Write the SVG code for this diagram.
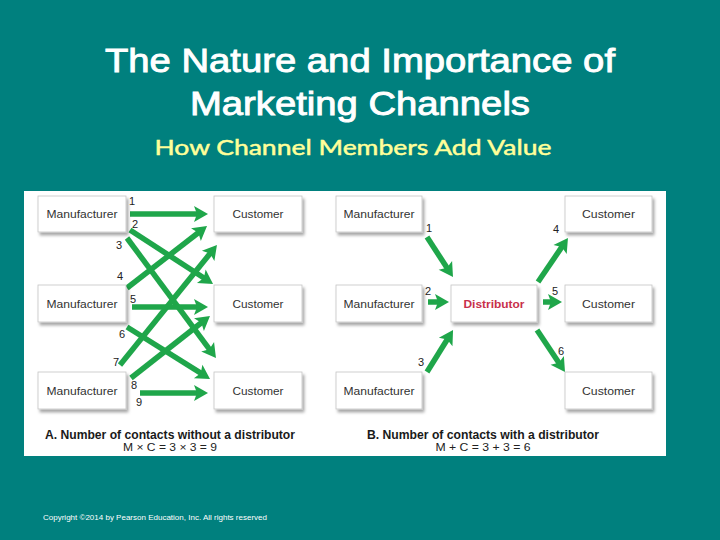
<svg xmlns="http://www.w3.org/2000/svg" width="720" height="540" viewBox="0 0 720 540">
<style>
.bg{fill:#00807e}
.title{font-family:"Liberation Sans",Arial,sans-serif;font-size:33px;fill:#ffffff;stroke:#ffffff;stroke-width:0.9;text-anchor:middle}
.sub{font-family:Lato,"Open Sans",sans-serif;font-size:22px;fill:#ffff99;stroke:#ffff99;stroke-width:0.5;text-anchor:middle}
.box{fill:#ffffff;stroke:#c4c4c4;stroke-width:0.8;filter:url(#sh)}
.lbl{font-family:"Liberation Sans",Arial,sans-serif;font-size:11px;fill:#333333;text-anchor:middle}
.dist{font-family:"Liberation Sans",Arial,sans-serif;font-size:11px;font-weight:bold;fill:#c8304b;text-anchor:middle}
.num{font-family:"Liberation Sans",Arial,sans-serif;font-size:11px;fill:#222222}
.cap{font-family:"Liberation Sans",Arial,sans-serif;font-size:12px;font-weight:bold;fill:#1a1a1a;text-anchor:middle}
.frm{font-family:"Liberation Sans",Arial,sans-serif;font-size:11.5px;fill:#222222;text-anchor:middle}
.arr{stroke:#1fa64a;stroke-width:5.5;fill:none;marker-end:url(#ah)}
.copy{font-family:"Liberation Sans",Arial,sans-serif;font-size:7px;fill:#ffffff}
</style>
<defs>
<filter id="sh" x="-10%" y="-20%" width="130%" height="160%">
<feDropShadow dx="2" dy="3" stdDeviation="1.5" flood-color="#000000" flood-opacity="0.35"/>
</filter>
<marker id="ah" markerUnits="userSpaceOnUse" viewBox="-1 -9 16 18" refX="5" refY="0" markerWidth="16" markerHeight="18" orient="auto">
<path d="M0,-8 L14,0 L0,8 L3,0 Z" fill="#1fa64a"/>
</marker>
</defs>
<rect class="bg" x="0" y="0" width="720" height="540"/>
<g id="title">
<text class="title" x="360" y="72" textLength="510" lengthAdjust="spacingAndGlyphs">The Nature and Importance of</text>
<text class="title" x="360" y="115" textLength="340" lengthAdjust="spacingAndGlyphs">Marketing Channels</text>
<text class="sub" x="353" y="155" textLength="397" lengthAdjust="spacingAndGlyphs">How Channel Members Add Value</text>
</g>
<rect id="panel" x="24" y="191" width="642" height="265" fill="#ffffff"/>
<g id="connectors">
<line class="arr" x1="130" y1="214" x2="199" y2="214"/>
<line class="arr" x1="130" y1="230" x2="205.5" y2="279"/>
<line class="arr" x1="127" y1="238" x2="210.6" y2="350.8"/>
<line class="arr" x1="127" y1="288" x2="199.9" y2="231.5"/>
<line class="arr" x1="132" y1="307" x2="199" y2="307"/>
<line class="arr" x1="127" y1="327" x2="202.4" y2="374.2"/>
<line class="arr" x1="120" y1="365" x2="211.3" y2="252"/>
<line class="arr" x1="131" y1="378" x2="202.9" y2="321.5"/>
<line class="arr" x1="140" y1="393" x2="199" y2="393"/>
<line class="arr" x1="427" y1="237" x2="448.1" y2="269.5"/>
<line class="arr" x1="428" y1="302" x2="440" y2="302"/>
<line class="arr" x1="427" y1="372" x2="448.3" y2="337.7"/>
<line class="arr" x1="538" y1="282" x2="562.9" y2="245.4"/>
<line class="arr" x1="543" y1="302" x2="553" y2="302"/>
<line class="arr" x1="537" y1="330" x2="560" y2="364.5"/>
</g>
<g id="contact-numbers">
<text class="num" x="129" y="205">1</text>
<text class="num" x="132" y="228">2</text>
<text class="num" x="116" y="249">3</text>
<text class="num" x="117" y="280">4</text>
<text class="num" x="130" y="303">5</text>
<text class="num" x="119" y="338">6</text>
<text class="num" x="113" y="366">7</text>
<text class="num" x="131" y="389">8</text>
<text class="num" x="136" y="406">9</text>
<text class="num" x="426" y="232">1</text>
<text class="num" x="425" y="295">2</text>
<text class="num" x="418" y="366">3</text>
<text class="num" x="553" y="233">4</text>
<text class="num" x="552" y="295">5</text>
<text class="num" x="558" y="355">6</text>
</g>
<g id="a-manufacturer-1"><rect class="box" x="38" y="196" width="88" height="36"/><text class="lbl" x="82" y="218" textLength="71" lengthAdjust="spacingAndGlyphs">Manufacturer</text></g>
<g id="a-manufacturer-2"><rect class="box" x="38" y="285" width="88" height="37"/><text class="lbl" x="82" y="307.5" textLength="71" lengthAdjust="spacingAndGlyphs">Manufacturer</text></g>
<g id="a-manufacturer-3"><rect class="box" x="38" y="372" width="88" height="37"/><text class="lbl" x="82" y="394.5" textLength="71" lengthAdjust="spacingAndGlyphs">Manufacturer</text></g>
<g id="a-customer-1"><rect class="box" x="214" y="196" width="88" height="36"/><text class="lbl" x="258" y="218" textLength="51" lengthAdjust="spacingAndGlyphs">Customer</text></g>
<g id="a-customer-2"><rect class="box" x="214" y="285" width="88" height="37"/><text class="lbl" x="258" y="307.5" textLength="51" lengthAdjust="spacingAndGlyphs">Customer</text></g>
<g id="a-customer-3"><rect class="box" x="214" y="372" width="88" height="37"/><text class="lbl" x="258" y="394.5" textLength="51" lengthAdjust="spacingAndGlyphs">Customer</text></g>
<g id="b-manufacturer-1"><rect class="box" x="336" y="196" width="86" height="36"/><text class="lbl" x="379" y="218" textLength="71" lengthAdjust="spacingAndGlyphs">Manufacturer</text></g>
<g id="b-manufacturer-2"><rect class="box" x="336" y="285" width="86" height="37"/><text class="lbl" x="379" y="307.5" textLength="71" lengthAdjust="spacingAndGlyphs">Manufacturer</text></g>
<g id="b-manufacturer-3"><rect class="box" x="336" y="372" width="86" height="37"/><text class="lbl" x="379" y="394.5" textLength="71" lengthAdjust="spacingAndGlyphs">Manufacturer</text></g>
<g id="b-distributor"><rect class="box" x="451" y="285" width="86" height="37"/><text class="dist" x="494" y="307.5" textLength="61" lengthAdjust="spacingAndGlyphs">Distributor</text></g>
<g id="b-customer-1"><rect class="box" x="565" y="196" width="87" height="36"/><text class="lbl" x="608.5" y="218" textLength="53" lengthAdjust="spacingAndGlyphs">Customer</text></g>
<g id="b-customer-2"><rect class="box" x="565" y="285" width="87" height="37"/><text class="lbl" x="608.5" y="307.5" textLength="53" lengthAdjust="spacingAndGlyphs">Customer</text></g>
<g id="b-customer-3"><rect class="box" x="565" y="372" width="87" height="37"/><text class="lbl" x="608.5" y="394.5" textLength="53" lengthAdjust="spacingAndGlyphs">Customer</text></g>
<g id="captions">
<text class="cap" x="170" y="439" textLength="250" lengthAdjust="spacingAndGlyphs">A. Number of contacts without a distributor</text>
<text class="frm" x="170" y="451" textLength="94" lengthAdjust="spacingAndGlyphs">M × C = 3 × 3 = 9</text>
<text class="cap" x="483" y="439" textLength="232" lengthAdjust="spacingAndGlyphs">B. Number of contacts with a distributor</text>
<text class="frm" x="483" y="451" textLength="95" lengthAdjust="spacingAndGlyphs">M + C = 3 + 3 = 6</text>
</g>
<text class="copy" x="43" y="520" textLength="224" lengthAdjust="spacingAndGlyphs">Copyright ©2014 by Pearson Education, Inc. All rights reserved</text>
</svg>
